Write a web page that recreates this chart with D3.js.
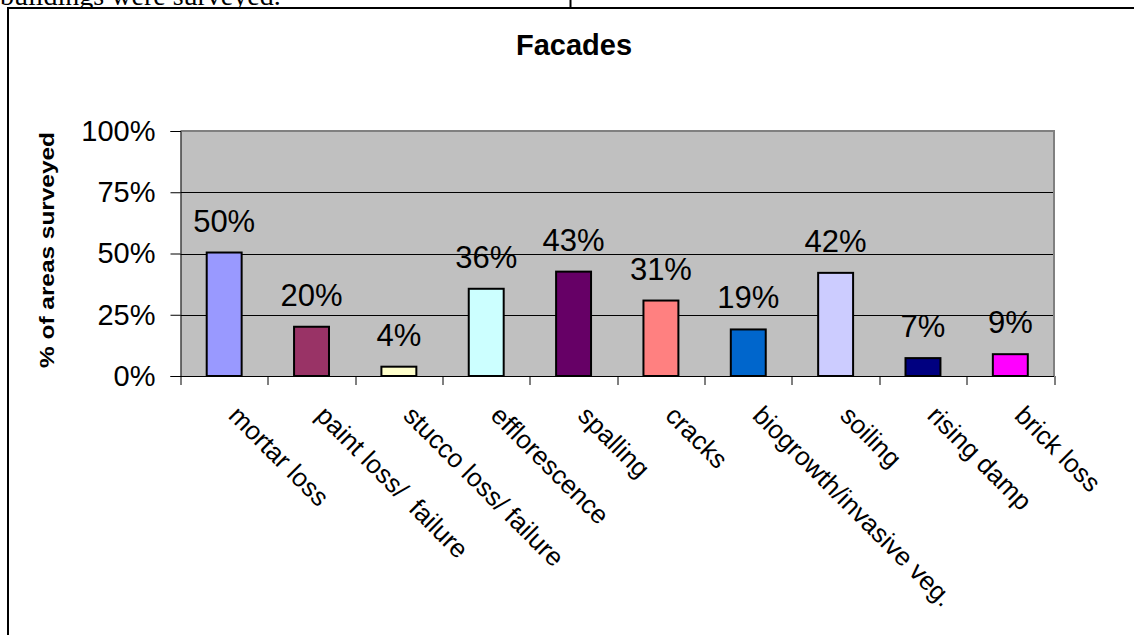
<!DOCTYPE html>
<html>
<head>
<meta charset="utf-8">
<script src="https://cdn.jsdelivr.net/npm/d3@7"></script>
<style>
  body { margin: 0; background: #fff; }
  svg { display: block; }
</style>
</head>
<body>
<div id="plot"></div>
<script>

// data
var categories = ["mortar loss", "paint loss/  failure", "stucco loss/ failure", "efflorescence",
                  "spalling", "cracks", "biogrowth/invasive veg.", "soiling", "rising damp", "brick loss"];
var values = [0.504, 0.201, 0.038, 0.356, 0.426, 0.308, 0.19, 0.421, 0.073, 0.089];
var barColors = ["#9999FF", "#993366", "#FFFFCC", "#CCFFFF", "#660066",
                 "#FF8080", "#0066CC", "#CCCCFF", "#000080", "#FF00FF"];
var yTicks = [0, 0.25, 0.5, 0.75, 1];

var width = 1134,
    height = 635;

var margin = {top: 131, right: 80, bottom: 259, left: 180.5},
    plotW = 1054 - margin.left,
    plotH = height - margin.top - margin.bottom;

var font = "Liberation Sans, Arial, sans-serif";

var svg = d3.select("#plot").append("svg")
    .attr("width", width)
    .attr("height", height);

// bit of the page text above the chart
svg.append("text")
    .attr("x", 0)
    .attr("y", 5)
    .attr("font-family", "Liberation Serif, Times New Roman, serif")
    .attr("font-size", 28)
    .text("buildings were surveyed.");
svg.append("line")
    .attr("x1", 570.5).attr("x2", 570.5)
    .attr("y1", 0).attr("y2", 8)
    .attr("stroke", "#000").attr("stroke-width", 2);

// chart frame
svg.append("rect")
    .attr("x", 8).attr("y", 8)
    .attr("width", 1300).attr("height", 800)
    .attr("fill", "#fff")
    .attr("stroke", "#000")
    .attr("stroke-width", 2);

var xScale = d3.scaleBand()
    .domain(categories)
    .range([0, plotW])
    .paddingInner(0.6)
    .paddingOuter(0.3);

var yScale = d3.scaleLinear()
    .domain([0, 1])
    .range([plotH, 0]);

var g = svg.append("g")
    .attr("transform", "translate(" + margin.left + "," + margin.top + ")");

g.append("rect")
    .attr("width", plotW)
    .attr("height", plotH)
    .attr("fill", "#C0C0C0");

// gridlines
g.append("g")
  .selectAll("line")
  .data(yTicks.filter(d => d > 0 && d < 1))
  .join("line")
    .attr("x1", 0).attr("x2", plotW)
    .attr("y1", d => Math.round(yScale(d)) + 0.5)
    .attr("y2", d => Math.round(yScale(d)) + 0.5)
    .attr("stroke", "#000");

// plot border top + right (grey)
g.append("path")
    .attr("d", "M0,0H" + plotW + "V" + plotH)
    .attr("fill", "none")
    .attr("stroke", "#808080")
    .attr("stroke-width", 2);

var yAxis = d3.axisLeft(yScale)
    .tickValues(yTicks)
    .tickFormat(d3.format(".0%"))
    .tickSize(10)
    .tickPadding(15);

var gYAxis = g.append("g")
    .call(yAxis);
gYAxis.select(".domain").attr("stroke", "#000");
gYAxis.selectAll("text")
    .attr("font-family", font)
    .attr("font-size", 29)
    .attr("fill", "#000");

// x axis: ticks at the band edges
var edges = d3.range(categories.length + 1).map(i => i * xScale.step());
var gXAxis = g.append("g")
    .attr("transform", "translate(0," + plotH + ")");
gXAxis.append("line")
    .attr("x1", 0).attr("x2", plotW)
    .attr("y1", 0.5).attr("y2", 0.5)
    .attr("stroke", "#000");
gXAxis.selectAll(".tick")
  .data(edges)
  .join("line")
    .attr("class", "tick")
    .attr("x1", d => Math.round(d) + 0.5).attr("x2", d => Math.round(d) + 0.5)
    .attr("y1", 0).attr("y2", 9)
    .attr("stroke", "#000");

// bars
g.append("g")
  .selectAll("rect")
  .data(values)
  .join("rect")
    .attr("x", (d, i) => xScale(categories[i]))
    .attr("y", d => yScale(d))
    .attr("width", xScale.bandwidth())
    .attr("height", d => plotH - yScale(d))
    .attr("fill", (d, i) => barColors[i])
    .attr("stroke", "#000")
    .attr("stroke-width", 2);

// value labels
g.append("g")
  .selectAll("text")
  .data(values)
  .join("text")
    .attr("x", (d, i) => xScale(categories[i]) + xScale.bandwidth() / 2)
    .attr("y", d => yScale(d) - 21)
    .attr("text-anchor", "middle")
    .attr("font-family", font)
    .attr("font-size", 31)
    .text(d => d3.format(".0%")(d));

// category labels, rotated 45deg
g.append("g")
  .selectAll("text")
  .data(categories)
  .join("text")
    .attr("transform", d => "translate(" + (xScale(d) + xScale.bandwidth() / 2 + 3) + "," + (plotH + 41) + ") rotate(45)")
    .attr("font-family", font)
    .attr("font-size", 26)
    .attr("xml:space", "preserve")
    .style("white-space", "pre")
    .text(d => d);

// titles
svg.append("text")
    .attr("x", 574)
    .attr("y", 55)
    .attr("text-anchor", "middle")
    .attr("font-family", font)
    .attr("font-weight", "bold")
    .attr("font-size", 29)
    .text("Facades");

// axis title is stretched along its length in the original
svg.append("text")
    .attr("transform", "translate(54,250) rotate(-90) scale(1.22,1)")
    .attr("text-anchor", "middle")
    .attr("font-family", font)
    .attr("font-weight", "bold")
    .attr("font-size", 20)
    .text("% of areas surveyed");

</script>
</body>
</html>
